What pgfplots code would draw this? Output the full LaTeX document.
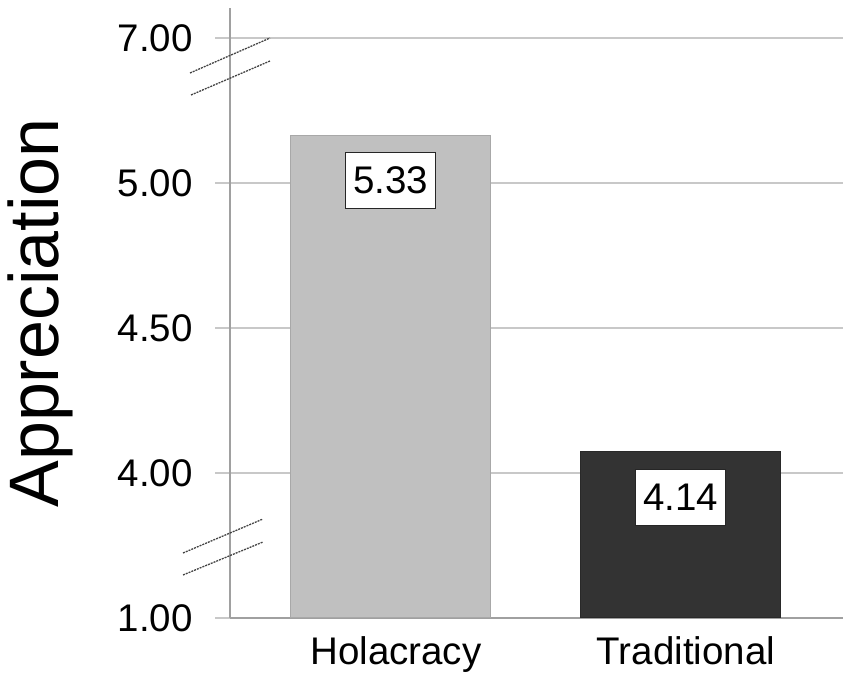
\documentclass[border=0pt]{standalone}
\usepackage{fontspec}
\setmainfont{Liberation Sans}
\usepackage{pgfplots}
\pgfplotsset{compat=1.18}
\definecolor{barlight}{HTML}{C0C0C0}
\definecolor{barlightedge}{HTML}{A8A8A8}
\definecolor{bardark}{HTML}{333333}
\definecolor{gridc}{HTML}{C8C8C8}
\definecolor{axc}{HTML}{A0A0A0}
\definecolor{breakc}{HTML}{444444}
\begin{document}
\begin{tikzpicture}
\path[use as bounding box] (0bp,0bp) rectangle (851bp,680bp);
\begin{axis}[
  at={(230bp,62bp)}, anchor=south west,
  scale only axis, width=613bp, height=610bp,
  xmin=-0.555, xmax=1.559, ymin=0, ymax=4.207,
  axis x line=bottom, axis y line=left,
  axis line style={-, draw=axc, line width=1.3bp},
  xtick={0,1}, xticklabels={Holacracy,Traditional},
  ytick={0,1,2,3,4}, yticklabels={1.00,4.00,4.50,5.00,7.00},
  ymajorgrids, major grid style={draw=gridc, line width=1.1bp},
  tick align=outside, major tick length=15bp,
  ytick style={draw=gridc, line width=1.1bp},
  xtick style={draw=none},
  /pgf/number format/assume math mode=true,
  ticklabel style={font=\fontsize{38.5bp}{46bp}\selectfont, inner sep=0pt},
  yticklabel style={anchor=east, xshift=-22bp},
  xticklabel style={anchor=north, xshift=5bp, yshift=-3bp},
  ylabel={Appreciation},
  ylabel style={at={(axis description cs:-0.31,0.5)}, anchor=center, inner sep=0pt, font=\fontsize{70bp}{80bp}\selectfont},
  ybar, bar width=0.69,
  nodes near coords, point meta=explicit symbolic,
  nodes near coords style={anchor=center, yshift=-45bp, fill=white, draw=black!85, line width=0.9bp,
    minimum width=90bp, minimum height=56bp, inner sep=0pt, font=\fontsize{38.5bp}{46bp}\selectfont},
]
\addplot[bar shift=0pt, fill=barlight, draw=barlightedge, line width=1bp] coordinates {(0,3.331) [5.33]};
\addplot[bar shift=0pt, fill=bardark, draw=bardark!80!black, line width=1bp] coordinates {(1,1.145) [4.14]};
\end{axis}
\begin{scope}[draw=breakc, line width=1.3bp, dash pattern=on 2bp off 1bp]
\draw (190bp,607bp) -- (270bp,642bp);
\draw (191bp,585bp) -- (270bp,619bp);
\draw (183bp,127bp) -- (263bp,161bp);
\draw (183bp,105bp) -- (263bp,138bp);
\end{scope}
\end{tikzpicture}
\end{document}
